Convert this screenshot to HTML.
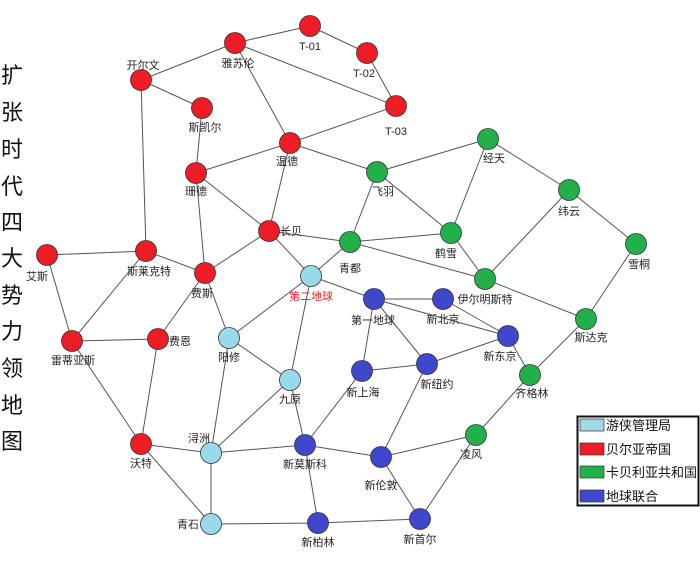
<!DOCTYPE html>
<html><head><meta charset="utf-8"><style>
html,body{margin:0;padding:0;background:#fff;width:700px;height:574px;overflow:hidden}
text{font-family:"Liberation Sans","Noto Sans CJK SC",sans-serif}
</style></head><body>
<svg width="700" height="574" viewBox="0 0 700 574" xmlns="http://www.w3.org/2000/svg">
<g font-size="22" fill="#111" text-anchor="middle">
<text x="12" y="83">扩</text><text x="12" y="120">张</text><text x="12" y="157">时</text><text x="12" y="194">代</text><text x="12" y="230">四</text><text x="12" y="266">大</text><text x="12" y="303">势</text><text x="12" y="339">力</text><text x="12" y="376">领</text><text x="12" y="413">地</text><text x="12" y="449">图</text>
</g>
<g stroke="#555" stroke-width="1" id="e"></g>
<g id="n"></g>
<g font-size="11" fill="#222" id="l"></g>
<g>
<rect x="577.5" y="416.5" width="121" height="89" fill="#fff" stroke="#111" stroke-width="2"/>
<rect x="580" y="419" width="24" height="12" fill="#a0d8e8" stroke="#333" stroke-width="0.7"/>
<rect x="580" y="443" width="24" height="12" fill="#ee1c25" stroke="#333" stroke-width="0.7"/>
<rect x="580" y="466" width="24" height="12" fill="#22b04b" stroke="#333" stroke-width="0.7"/>
<rect x="580" y="490" width="24" height="12" fill="#3f48cc" stroke="#333" stroke-width="0.7"/>
<g font-size="13" fill="#111">
<text x="606" y="430">游侠管理局</text>
<text x="606" y="454">贝尔亚帝国</text>
<text x="606" y="477">卡贝利亚共和国</text>
<text x="606" y="501">地球联合</text>
</g>
</g>
</svg>
<script>
const R="#ee1c25",G="#22b04b",L="#99d9ea",B="#3f48cc";
const N={
"T-01":[310,26,R,0,20],"雅苏伦":[235,43,R,3,20],"开尔文":[141,80,R,2,-15],"斯凯尔":[202,108,R,3,19],"T-02":[367,53,R,-3,20],"T-03":[396,106,R,0,25],"温德":[290,143,R,-3,18],"珊德":[196,173,R,0,18],"长贝":[269,231,R,22,0],"斯莱克特":[146,251,R,3,20],"艾斯":[47,255,R,-10,21],"费斯":[205,273,R,-3,20],"雷蒂亚斯":[72,341,R,1,19],"费恩":[158,339,R,22,2],"沃特":[141,444,R,0,19],
"经天":[488,139,G,6,19],"飞羽":[377,172,G,6,19],"纬云":[569,190,G,0,21],"鹤雪":[451,233,G,-5,20],"青都":[350,242,G,0,26],"雪桐":[636,244,G,3,20],"伊尔明斯特":[485,279,G,0,20],"斯达克":[586,319,G,5,18],"齐格林":[530,375,G,2,18],
"凌风":[476,435,G,-5,19],
"第二地球":[311,276,L,0,20],"阳修":[229,338,L,0,19],"九原":[290,380,L,0,19],"浔洲":[211,453,L,-12,-15],"青石":[211,524,L,-23,0],
"第一地球":[374,299,B,-1,21],"新北京":[443,299,B,0,20],"新东京":[508,336,B,-8,20],"新上海":[362,371,B,1,21],"新纽约":[427,364,B,10,20],"新伦敦":[381,457,B,0,28],"新莫斯科":[305,445,B,0,19],"新柏林":[318,523,B,0,19],"新首尔":[420,519,B,0,20]};
const E="雅苏伦-T-01,T-01-T-02,T-02-T-03,雅苏伦-T-03,雅苏伦-开尔文,雅苏伦-温德,T-03-温德,开尔文-斯凯尔,开尔文-斯莱克特,斯凯尔-珊德,珊德-温德,珊德-长贝,珊德-费斯,温德-长贝,温德-飞羽,长贝-费斯,长贝-青都,长贝-第二地球,斯莱克特-艾斯,斯莱克特-费斯,斯莱克特-雷蒂亚斯,艾斯-雷蒂亚斯,雷蒂亚斯-费恩,雷蒂亚斯-沃特,费恩-费斯,费恩-沃特,费斯-阳修,阳修-第二地球,阳修-九原,阳修-浔洲,第二地球-九原,第二地球-第一地球,第二地球-青都,九原-浔洲,九原-新莫斯科,沃特-浔洲,沃特-青石,浔洲-青石,浔洲-新莫斯科,青石-新柏林,新莫斯科-新柏林,新莫斯科-新上海,新莫斯科-新伦敦,新柏林-新首尔,新伦敦-新首尔,新伦敦-新纽约,新伦敦-凌风,新首尔-凌风,凌风-齐格林,齐格林-新东京,齐格林-斯达克,斯达克-伊尔明斯特,斯达克-雪桐,雪桐-纬云,纬云-经天,纬云-伊尔明斯特,经天-飞羽,经天-鹤雪,飞羽-青都,飞羽-鹤雪,青都-鹤雪,青都-伊尔明斯特,鹤雪-伊尔明斯特,第一地球-新北京,第一地球-新东京,第一地球-新上海,第一地球-新纽约,新北京-新东京,新上海-新纽约,新纽约-新东京".split(",");
const ns="http://www.w3.org/2000/svg";
function mk(t,a,p){const e=document.createElementNS(ns,t);for(const k in a)e.setAttribute(k,a[k]);p.appendChild(e);return e;}
const eg=document.getElementById("e"),ng=document.getElementById("n"),lg=document.getElementById("l");
E.forEach(s=>{let a,b;if(s.startsWith("T-0")){a=s.slice(0,4);b=s.slice(5);}else{const i=s.indexOf("-");a=s.slice(0,i);b=s.slice(i+1);}
const p=N[a],q=N[b];mk("line",{x1:p[0],y1:p[1],x2:q[0],y2:q[1]},eg);});
for(const k in N){const [x,y,c,dx,dy]=N[k];mk("circle",{cx:x,cy:y,r:10.5,fill:c,stroke:"#333","stroke-width":0.8},ng);
const t=mk("text",{x:x+dx,y:y+dy+4,"text-anchor":"middle",fill:k=="第二地球"?"#e8202a":"#222"},lg);t.textContent=k;}
</script>
</body></html>
